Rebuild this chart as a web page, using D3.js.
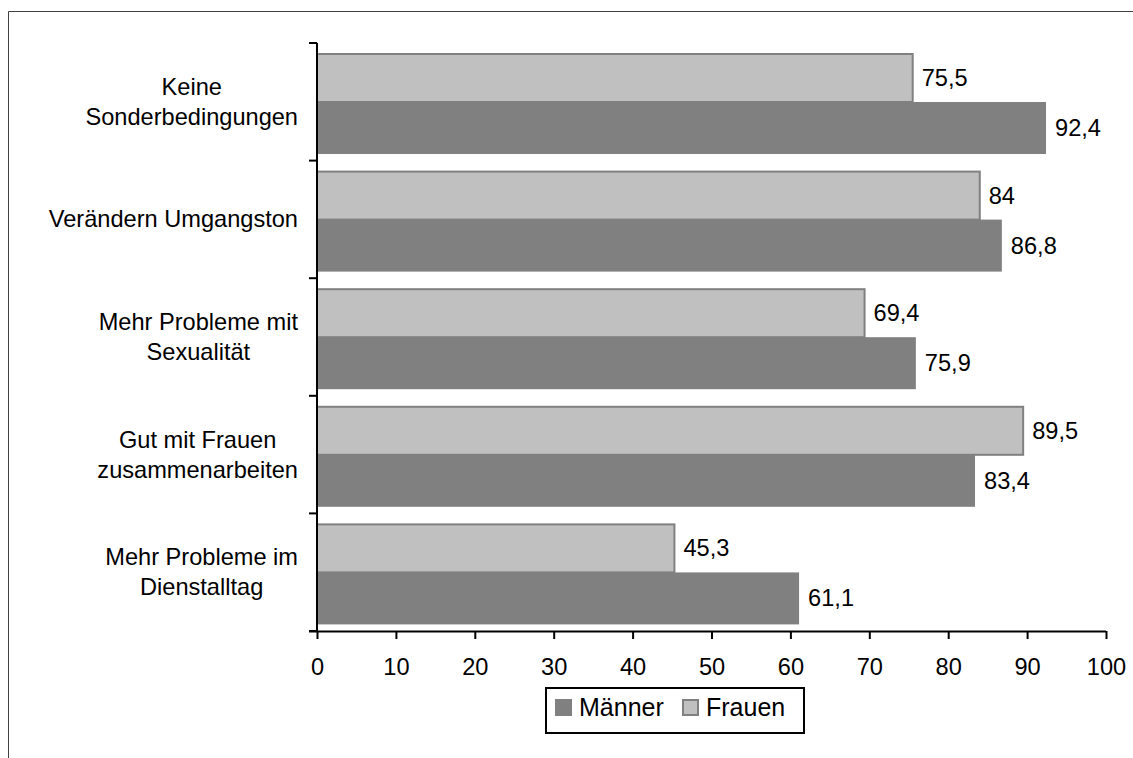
<!DOCTYPE html>
<html>
<head>
<meta charset="utf-8">
<script src="https://cdn.jsdelivr.net/npm/d3@7"></script>
<style>
  body { margin: 0; background: #fff; }
  svg { display: block; font-family: Arial, "Liberation Sans", sans-serif; }
</style>
</head>
<body>
<div id="vis-container"></div>
<script>
// categories top to bottom
const categories = [
  ["Keine", "Sonderbedingungen"],
  ["Verändern Umgangston"],
  ["Mehr Probleme mit", "Sexualität"],
  ["Gut mit Frauen", "zusammenarbeiten"],
  ["Mehr Probleme im", "Dienstalltag"]
];
const maenner = [92.4, 86.8, 75.9, 83.4, 61.1];
const frauen = [75.5, 84, 69.4, 89.5, 45.3];
const xTicks = [0, 10, 20, 30, 40, 50, 60, 70, 80, 90, 100];

const W = 1133, H = 758;
const margin = { top: 43, left: 317, right: 27, bottom: 127 };
const width = W - margin.left - margin.right;
const height = H - margin.top - margin.bottom;
const fontSize = "23.6px";

const svg = d3.select("#vis-container")
  .append("svg")
  .attr("width", W)
  .attr("height", H);

// outer frame
svg.append("path")
  .attr("d", `M8.5,${H} V11.5 H${W}`)
  .attr("fill", "none")
  .attr("stroke", "#404040")
  .attr("stroke-width", 1);

const g = svg.append("g")
  .attr("transform", `translate(${margin.left},${margin.top})`);

const x = d3.scaleLinear().domain([0, 100]).range([0, width]);
const y = d3.scaleBand().domain(d3.range(categories.length)).range([0, height]);

const fmt = v => String(v).replace(".", ",");
const barH = 50;
const padTop = 10;

const rows = g.selectAll("g.row")
  .data(categories.map((c, i) => ({ c, i, m: maenner[i], f: frauen[i] })))
  .join("g")
  .attr("class", "row")
  .attr("transform", d => `translate(0,${y(d.i)})`);

// Frauen bar (light, with border)
rows.append("rect")
  .attr("x", 0)
  .attr("y", padTop + 1)
  .attr("width", d => x(d.f))
  .attr("height", barH - 2)
  .attr("fill", "#c0c0c0")
  .attr("stroke", "#808080")
  .attr("stroke-width", 2);

// Männer bar (dark)
rows.append("rect")
  .attr("x", 0)
  .attr("y", padTop + barH - 1)
  .attr("width", d => x(d.m))
  .attr("height", barH + 2)
  .attr("fill", "#808080");

rows.append("text")
  .attr("x", d => x(d.f) + 9)
  .attr("y", padTop + barH / 2 + 8)
  .style("font-size", fontSize)
  .text(d => fmt(d.f));

rows.append("text")
  .attr("x", d => x(d.m) + 9)
  .attr("y", padTop + barH * 1.5 + 8)
  .style("font-size", fontSize)
  .text(d => fmt(d.m));

// category labels: lines centred on each other, block right-aligned near the axis
rows.each(function (d) {
  const t = d3.select(this).append("text")
    .attr("text-anchor", "middle")
    .style("font-size", fontSize);
  const lh = 30;
  const y0 = y.bandwidth() / 2 - (d.c.length - 1) * lh / 2 + 8;
  const spans = d.c.map((line, k) =>
    t.append("tspan").attr("y", y0 + k * lh).text(line));
  const maxW = d3.max(spans, s => s.node().getComputedTextLength());
  spans.forEach(s => s.attr("x", -19 - maxW / 2));
});

// y axis with category boundary ticks
const bounds = d3.range(categories.length + 1).map(i => i * y.step());
g.append("line")
  .attr("x1", 0).attr("x2", 0)
  .attr("y1", 0).attr("y2", height)
  .attr("stroke", "#000").attr("stroke-width", 2);
g.selectAll("line.ytick")
  .data(bounds)
  .join("line")
  .attr("class", "ytick")
  .attr("x1", -8).attr("x2", 0)
  .attr("y1", d => d).attr("y2", d => d)
  .attr("stroke", "#000").attr("stroke-width", 2);

// x axis
const xAxis = g.append("g")
  .attr("transform", `translate(0,${height})`)
  .call(d3.axisBottom(x).tickValues(xTicks).tickSize(8).tickPadding(19).tickSizeOuter(0));
xAxis.select(".domain").attr("stroke", "#000").attr("stroke-width", 2).attr("d", `M-8,0.5H${width}`);
xAxis.selectAll(".tick line").attr("stroke-width", 2);
xAxis.selectAll(".tick text")
  .style("font-size", fontSize)
  .style("font-family", "Arial, 'Liberation Sans', sans-serif")
  .attr("fill", "#000");

// legend
const legend = svg.append("g").attr("transform", "translate(546,688)");
legend.append("rect")
  .attr("width", 258).attr("height", 45)
  .attr("fill", "#fff").attr("stroke", "#000").attr("stroke-width", 2);
const legendItems = [
  { name: "Männer", fill: "#808080", stroke: "none", x: 9 },
  { name: "Frauen", fill: "#c0c0c0", stroke: "#808080", x: 136 }
];
const li = legend.selectAll("g.li").data(legendItems).join("g")
  .attr("transform", d => `translate(${d.x},11)`);
li.append("rect")
  .attr("x", d => d.stroke === "none" ? 0 : 1)
  .attr("y", d => d.stroke === "none" ? 0 : 1)
  .attr("width", d => d.stroke === "none" ? 17 : 15)
  .attr("height", d => d.stroke === "none" ? 17 : 15)
  .attr("fill", d => d.fill)
  .attr("stroke", d => d.stroke)
  .attr("stroke-width", 2);
li.append("text")
  .attr("x", 24).attr("y", 17)
  .style("font-size", "25px")
  .text(d => d.name);
</script>
</body>
</html>
